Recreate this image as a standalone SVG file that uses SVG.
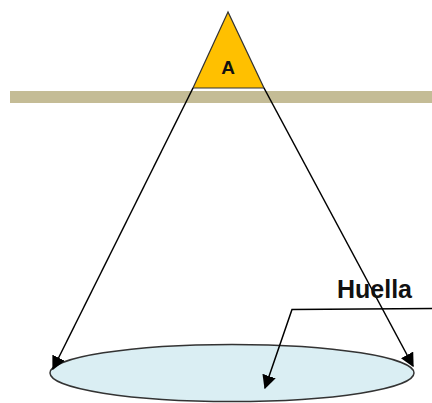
<svg xmlns="http://www.w3.org/2000/svg" width="432" height="403" viewBox="0 0 432 403">
<defs>
<style>
.ln{stroke:#000;stroke-width:1.5;fill:none}
.lbl{font-family:"Liberation Sans",Arial,sans-serif;font-weight:bold;fill:#111}
</style>
<marker id="ah" viewBox="0 0 10 10" refX="9" refY="5" markerWidth="6" markerHeight="6" markerUnits="userSpaceOnUse" orient="auto">
<path d="M0,0 L10,5 L0,10 z" fill="#000"/>
</marker>
<marker id="ah2" viewBox="0 0 10 10" refX="9" refY="5" markerWidth="14" markerHeight="14" markerUnits="userSpaceOnUse" orient="auto">
<path d="M0,0 L10,5 L0,10 z" fill="#000"/>
</marker>
</defs>
<rect id="ground" x="10" y="91" width="422" height="12" fill="#C4BC96"/>
<g id="footprint">
<ellipse cx="232" cy="373" rx="182" ry="28.5" fill="#DAEEF3" stroke="#333" stroke-width="1.5"/>
</g>
<g id="A">
<polygon points="228,12 193,88 264,88" fill="#FFC000" stroke="#333" stroke-width="1.2"/>
<text class="lbl" x="228" y="74" font-size="19" text-anchor="middle">A</text>
</g>
<g id="connectors">
<line class="ln" x1="193" y1="88" x2="53" y2="369" marker-end="url(#ah2)"/>
<line class="ln" x1="264" y1="88" x2="413" y2="366" marker-end="url(#ah2)"/>
<polyline class="ln" points="432,308.5 292,309.5 265,388" marker-end="url(#ah2)"/>
</g>
<g id="huella-label">
<text class="lbl" x="337" y="298" font-size="25">Huella</text>
</g>
</svg>
